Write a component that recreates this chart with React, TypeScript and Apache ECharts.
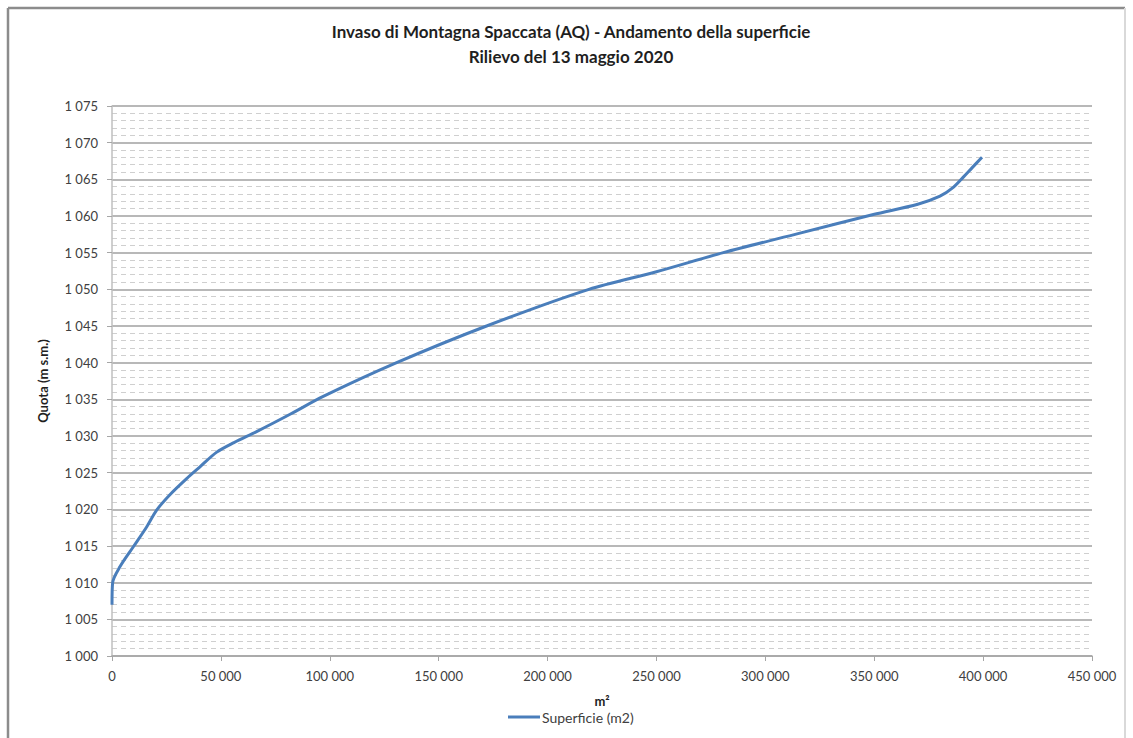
import React, { useEffect, useRef } from "react";
import * as echarts from "echarts";

const titleLine1 = "Invaso di Montagna Spaccata (AQ) - Andamento della superficie";
const titleLine2 = "Rilievo del 13 maggio 2020";
const seriesName = "Superficie (m2)";
const xAxisName = "m²";
const yAxisName = "Quota (m s.m.)";

// superficie (m²)
const areaValues = [
  0, 300, 3700, 9800, 15900, 20500, 26600, 34300, 40400, 48100, 56000, 66400,
  82000, 97000, 130700, 172000, 219000, 250000, 280700, 315000, 349600, 370000,
  380200, 386300, 390900, 395000, 399500,
];
// quota (m s.m.)
const elevationValues = [
  1007, 1010, 1012.2, 1014.9, 1017.6, 1019.9, 1022, 1024.2, 1025.8, 1027.8, 1029.1,
  1030.6, 1033.0, 1035.4, 1040, 1045, 1050, 1052.4, 1055, 1057.6, 1060.2, 1061.6,
  1062.7, 1063.9, 1065.3, 1066.6, 1068,
];

const FONT = "Lato";
const fmt = (v: number) => String(v).replace(/\B(?=(\d{3})+(?!\d))/g, " ");

export default function App() {
  const ref = useRef<HTMLDivElement>(null);
  useEffect(() => {
    if (!ref.current) return;
    const chart = echarts.init(ref.current, undefined, { renderer: "svg" });
    const data = areaValues.map((x, i) => [x, elevationValues[i]]);
    chart.setOption({
      animation: false,
      backgroundColor: "#ffffff",
      title: {
        text: titleLine1 + "\n" + titleLine2,
        left: 571,
        textAlign: "center",
        top: 19,
        padding: 0,
        textStyle: {
          fontFamily: FONT,
          fontSize: 17,
          fontWeight: "bold",
          color: "#1f1f1f",
          lineHeight: 25,
        },
      },
      graphic: [
        { type: "line", shape: { x1: 8, y1: 8, x2: 1125, y2: 8 }, style: { stroke: "#8c8c8c", lineWidth: 2.5 } },
        { type: "line", shape: { x1: 8, y1: 8, x2: 8, y2: 738 }, style: { stroke: "#8c8c8c", lineWidth: 2.5 } },
        { type: "line", shape: { x1: 1125, y1: 8, x2: 1125, y2: 738 }, style: { stroke: "#d9d9d9", lineWidth: 2 } },
      ],
      legend: {
        left: 508,
        top: 710,
        padding: 0,
        itemWidth: 32,
        itemHeight: 3,
        itemGap: 0,
        icon: "rect",
        textStyle: { fontFamily: FONT, fontSize: 14, color: "#404040", padding: [0, 0, 0, -3] },
        data: [seriesName],
      },
      grid: { left: 112, right: 41, top: 106, bottom: 82 },
      xAxis: {
        type: "value",
        min: 0,
        max: 450000,
        interval: 50000,
        name: xAxisName,
        nameLocation: "middle",
        nameGap: 38,
        nameTextStyle: { fontFamily: FONT, fontSize: 13, fontWeight: "bold", color: "#1f1f1f" },
        axisLine: { show: true, lineStyle: { color: "#a6a6a6", width: 1.5 } },
        axisTick: { show: true, length: 5, lineStyle: { color: "#a6a6a6" } },
        axisLabel: { formatter: fmt, fontFamily: FONT, fontSize: 13, color: "#404040", margin: 13 },
        splitLine: { show: false },
      },
      yAxis: {
        type: "value",
        min: 1000,
        max: 1075,
        interval: 5,
        name: yAxisName,
        nameLocation: "middle",
        nameGap: 63,
        nameTextStyle: { fontFamily: FONT, fontSize: 13, fontWeight: "bold", color: "#1f1f1f" },
        axisLine: { show: true, lineStyle: { color: "#bfbfbf", width: 1.5 } },
        axisTick: { show: true, inside: false, length: 5, lineStyle: { color: "#a6a6a6" } },
        axisLabel: { formatter: fmt, fontFamily: FONT, fontSize: 13, color: "#404040", margin: 14 },
        splitLine: { show: true, lineStyle: { color: "#a0a0a0", width: 1.5 } },
        minorTick: { show: false, splitNumber: 5 },
        minorSplitLine: { show: true, lineStyle: { color: "#cfcfcf", width: 1, type: [5, 4] } },
      },
      series: [
        {
          name: seriesName,
          type: "line",
          data,
          showSymbol: false,
          symbol: "none",
          smooth: 0.3,
          lineStyle: { color: "#4a7ebb", width: 3 },
          itemStyle: { color: "#4a7ebb" },
        },
      ],
    });
    return () => chart.dispose();
  }, []);
  return (
    <div
      ref={ref}
      style={{ position: "fixed", left: 0, top: 0, width: 1133, height: 738, background: "#fff" }}
    />
  );
}
